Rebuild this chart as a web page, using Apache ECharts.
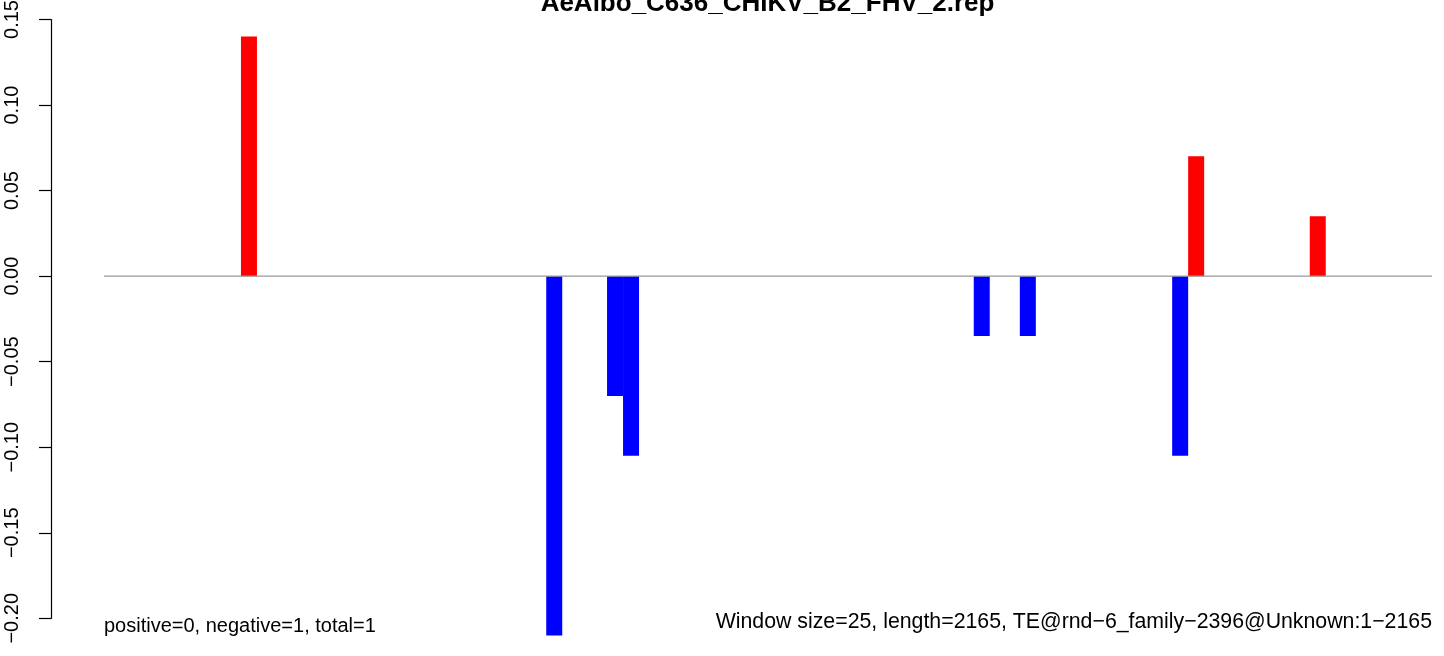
<!DOCTYPE html>
<html><head><meta charset="utf-8">
<script src="https://cdn.jsdelivr.net/npm/echarts@6/dist/echarts.min.js"></script>
<style>html,body{margin:0;padding:0;background:#fff}#c{width:1444px;height:656px}</style>
</head><body><div id="c"></div>
<script>
const chartTitle = 'AeAlbo_C636_CHIKV_B2_FHV_2.rep';
const windowStarts = [214, 691, 786, 811, 1359, 1431, 1669, 1694, 1884];
const scores = [0.14, -0.21, -0.07, -0.105, -0.035, -0.035, -0.105, 0.07, 0.035];
const windowSize = 25;
const xRange = [0, 2075];
const yRange = [-0.20, 0.15];
const yStep = 0.05;
const leftNote = 'positive=0, negative=1, total=1';
const rightNote = 'Window size=25, length=2165, TE@rnd\u22126_family\u22122396@Unknown:1\u22122165';

const FONT = '"Liberation Sans", Arial, Helvetica, sans-serif';
// layout (pixels): y axis line at x=51, data range spans x=104..1432
const AXIS_X = 51, DATA_LEFT = 104, DATA_RIGHT = 1432;
const unitsPerPx = (xRange[1] - xRange[0]) / (DATA_RIGHT - DATA_LEFT);
const xMin = xRange[0] - (DATA_LEFT - AXIS_X) * unitsPerPx;

const chart = echarts.init(document.getElementById('c'), null, {renderer: 'canvas'});
const barData = windowStarts.map((s, i) => [s, scores[i]]);

chart.setOption({
  animation: false,
  backgroundColor: '#ffffff',
  grid: {left: AXIS_X, right: 1444 - DATA_RIGHT, top: 19.5, bottom: 37.7, containLabel: false, outerBoundsMode: 'none'},
  xAxis: {type: 'value', min: xMin, max: xRange[1], show: false},
  yAxis: {
    type: 'value', min: yRange[0], max: yRange[1], interval: yStep,
    position: 'left',
    axisLine: {show: true, onZero: false, lineStyle: {color: '#000', width: 1.2}},
    axisTick: {show: true, length: 12, lineStyle: {color: '#000', width: 1.2}},
    splitLine: {show: false},
    axisLabel: {
      rotate: 90, fontSize: 20, color: '#000', fontFamily: FONT, margin: 29,
      showMinLabel: true, showMaxLabel: true, hideOverlap: false,
      formatter: v => (v < -1e-9 ? '\u2212' : '') + Math.abs(v).toFixed(2)
    }
  },
  series: [
    {
      type: 'custom', clip: false, z: 2,
      data: barData,
      renderItem: (params, api) => {
        const x0 = api.value(0), v = api.value(1);
        const p0 = api.coord([x0, 0]);
        const p1 = api.coord([x0 + windowSize, v]);
        return {
          type: 'rect',
          shape: {x: p0[0], y: Math.min(p0[1], p1[1]), width: p1[0] - p0[0], height: Math.abs(p1[1] - p0[1])},
          style: {fill: v > 0 ? '#ff0000' : '#0000ff'}
        };
      }
    },
    {
      type: 'line', z: 3, symbol: 'none', silent: true,
      data: [[xRange[0], 0], [xRange[1], 0]],
      lineStyle: {color: '#999999', width: 1.2}
    }
  ],
  graphic: [
    {type: 'text', x: 767.5, y: 4, style: {text: chartTitle, font: 'bold 26px ' + FONT, fill: '#000', textAlign: 'center', textVerticalAlign: 'middle'}},
    {type: 'text', x: 104, y: 626, style: {text: leftNote, font: '20px ' + FONT, fill: '#000', textAlign: 'left', textVerticalAlign: 'middle'}},
    {type: 'text', x: 1432, y: 622, style: {text: rightNote, font: '21.3px ' + FONT, fill: '#000', textAlign: 'right', textVerticalAlign: 'middle'}}
  ]
});
</script></body></html>
